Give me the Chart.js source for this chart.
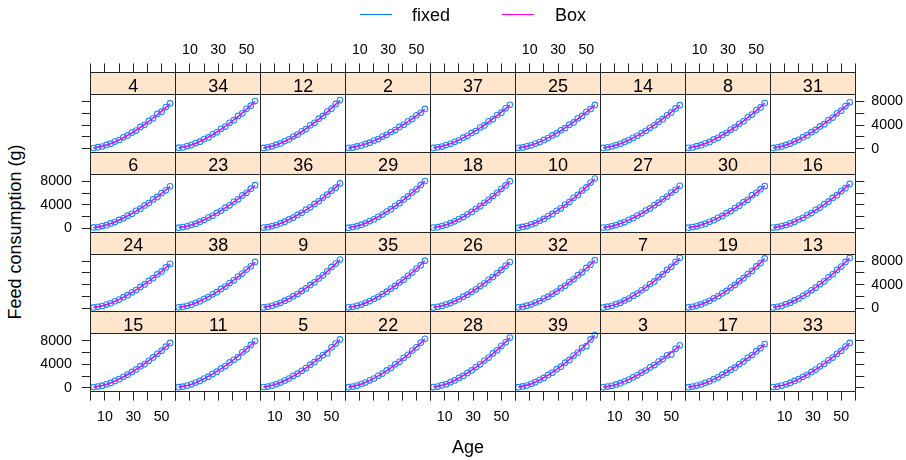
<!DOCTYPE html>
<html>
<head>
<meta charset="utf-8">
<script src="https://cdn.jsdelivr.net/npm/chart.js@4.4.1/dist/chart.umd.min.js"></script>
<style>
  html, body { margin: 0; padding: 0; background: #fff; }
  #page { position: relative; width: 906px; height: 460px; overflow: hidden;
          font-family: 'Liberation Sans', Arial, sans-serif; color: #000; }
  #page canvas { position: absolute; }
  .txt { position: absolute; font-size: 18px; line-height: 18px; white-space: nowrap; }
  .key { position: absolute; width: 32px; height: 1px; }
</style>
</head>
<body>
<div id="page"></div>
<script>
// ---- Data ------------------------------------------------------------
const ages    = [2, 5, 8, 11, 14, 17, 20, 23, 26, 29, 32, 35, 38, 41, 44, 47, 50, 53, 56];
const fitAges = [2, 11, 20, 29, 38, 47, 56];

const seriesNames  = ['fixed', 'Box'];
const seriesColors = ['#0080ff', '#ff00ff'];

const xTickVals   = [0, 10, 20, 30, 40, 50, 60];
const xTickLabels = [10, 30, 50];
const yTickVals   = [0, 2000, 4000, 6000, 8000];
const yTickLabels = [0, 4000, 8000];

// pens in panel order, top row first
const penOrder = [4, 34, 12, 2, 37, 25, 14, 8, 31,
                  6, 23, 36, 29, 18, 10, 27, 30, 16,
                  24, 38, 9, 35, 26, 32, 7, 19, 13,
                  15, 11, 5, 22, 28, 39, 3, 17, 33];

// observed cumulative feed (g) at each age
const obs4  = [120,260,380,640,850,1210,1480,1930,2250,2740,3080,3700,4060,4720,5150,5900,6280,7060,7690];
const obs34 = [170,210,440,610,950,1200,1630,1920,2440,2790,3390,3760,4400,4840,5560,6010,6770,7300,8080];
const obs12 = [140,250,400,680,900,1290,1590,2060,2400,2950,3340,3980,4390,5090,5560,6300,6800,7600,8260];
const obs2  = [160,200,390,530,810,1020,1380,1640,2060,2350,2840,3160,3700,4070,4650,5040,5680,6100,6760];
const obs37 = [130,250,370,620,830,1180,1440,1870,2180,2680,3010,3600,3960,4640,4980,5720,6120,6850,7460];
const obs25 = [160,220,410,580,880,1120,1500,1800,2260,2590,3120,3480,4080,4460,5150,5560,6260,6740,7430];
const obs14 = [140,240,380,610,840,1160,1460,1850,2190,2650,3040,3560,3980,4580,5020,5680,6150,6830,7380];
const obs8  = [150,210,430,600,910,1150,1570,1860,2340,2690,3250,3620,4240,4660,5340,5790,6520,7010,7760];
const obs31 = [130,250,390,650,870,1230,1520,1960,2290,2810,3180,3780,4170,4840,5280,6010,6460,7230,7870];
const obs6  = [170,210,400,560,850,1080,1450,1730,2170,2490,3000,3350,3910,4310,4920,5350,6010,6470,7150];
const obs23 = [140,240,370,610,820,1160,1430,1840,2160,2630,2990,3530,3920,4530,4950,5610,6060,6760,7340];
const obs36 = [150,220,410,590,890,1150,1540,1850,2300,2660,3190,3590,4160,4620,5250,5730,6410,6930,7650];
const obs29 = [140,250,390,650,890,1250,1560,1990,2350,2860,3280,3840,4300,4930,5430,6110,6650,7390,8050];
const obs18 = [160,220,420,620,930,1210,1600,1940,2400,2810,3340,3780,4360,4860,5500,6040,6720,7310,8030];
const obs10 = [130,260,400,680,920,1310,1620,2100,2460,3010,3420,4060,4490,5200,5690,6440,6960,7790,8480];
const obs27 = [160,210,400,570,850,1090,1470,1750,2190,2520,3040,3400,3950,4380,4990,5420,6090,6560,7240];
const obs30 = [140,240,370,600,810,1140,1410,1810,2130,2590,2950,3470,3860,4460,4870,5650,6050,6660,7180];
const obs16 = [150,220,410,590,880,1130,1520,1820,2280,2620,3160,3540,4120,4550,5190,5650,6340,6840,7560];
const obs24 = [130,240,380,620,840,1180,1470,1870,2210,2690,3080,3610,4030,4630,5100,5740,6240,6920,7530];
const obs38 = [160,220,420,600,910,1170,1570,1890,2360,2730,3270,3680,4270,4740,5380,5880,6570,7120,7850];
const obs9  = [140,250,400,660,910,1280,1600,2040,2410,2930,3360,3950,4410,5060,5580,6270,7000,7570,8250];
const obs35 = [150,230,420,620,930,1210,1600,1940,2400,2800,3340,3790,4360,4850,5500,6040,6720,7310,8060];
const obs26 = [140,240,390,640,870,1220,1520,1950,2300,2790,3200,3750,4190,4810,5300,5970,6490,7200,7840];
const obs32 = [160,220,430,620,950,1210,1630,1950,2450,2820,3400,3810,4440,4900,5600,6090,6840,7380,8160];
const obs7  = [130,260,410,690,930,1330,1640,2120,2490,3050,3460,4110,4540,5260,5750,6520,7040,7870,8560];
const obs19 = [150,230,440,640,970,1260,1680,2030,2530,2930,3510,3960,4590,5090,5790,6320,7090,7660,8450];
const obs13 = [140,250,410,680,940,1320,1650,2100,2500,3030,3480,4080,4560,5240,5760,6490,7060,7850,8540];
const obs15 = [150,240,390,620,860,1190,1500,1900,2250,2730,3140,3700,4060,4600,5180,5800,6330,7000,7640];
const obs11 = [140,220,420,610,930,1190,1590,1910,2390,2760,3320,3720,4330,4790,5240,6060,6550,7310,7960];
const obs5  = [160,230,410,660,920,1270,1600,2040,2420,2920,3370,3950,4420,5060,5580,5900,6900,7540,8230];
const obs22 = [140,250,400,670,920,1300,1610,2070,2440,2970,3390,4010,4450,5130,5640,6360,6900,7680,8340];
const obs28 = [150,230,440,650,980,1280,1700,2050,2560,2970,3550,4010,4640,5150,5860,6400,7150,7760,8550];
const obs39 = [140,260,420,710,980,1390,1710,2220,2600,3190,3620,4300,4750,5500,6020,6820,7100,8240,8950];
const obs3  = [150,230,380,600,820,1140,1420,1820,2140,2600,2960,3480,3890,4470,4900,5540,5700,6650,7240];
const obs17 = [140,240,400,590,870,1130,1500,1810,2250,2600,3110,3490,4060,4500,5110,5590,6250,6750,7450];
const obs33 = [160,220,410,630,860,1190,1490,1900,2240,2730,3120,3670,4090,4690,5160,5810,6310,7020,7640];

// fitted curves at fitAges: fixed-effects model and Box model
const fixed4  = [140,620,1500,2700,4110,5790,7620], box4  = [110,600,1510,2690,4130,5770,7590];
const fixed34 = [150,630,1580,2830,4340,6060,8010], box34 = [120,620,1590,2820,4330,6070,7990];
const fixed12 = [150,650,1620,2890,4440,6220,8210], box12 = [110,640,1620,2900,4430,6230,8190];
const fixed2  = [150,560,1350,2380,3640,5100,6710], box2  = [120,550,1350,2390,3640,5090,6700];
const fixed37 = [150,600,1470,2620,4010,5630,7410], box37 = [110,590,1480,2620,4020,5620,7390];
const fixed25 = [150,600,1470,2620,4010,5620,7400], box25 = [120,590,1480,2620,4020,5610,7390];
const fixed14 = [150,600,1470,2620,4010,5620,7390], box14 = [110,590,1470,2630,4010,5620,7380];
const fixed8  = [150,620,1530,2720,4170,5850,7710], box8  = [110,610,1530,2730,4170,5840,7700];
const fixed31 = [150,620,1550,2760,4230,5920,7810], box31 = [120,610,1550,2760,4240,5920,7790];
const fixed6  = [150,580,1420,2520,3860,5400,7110], box6  = [110,570,1420,2530,3860,5390,7100];
const fixed23 = [150,590,1460,2590,3960,5550,7310], box23 = [120,580,1460,2590,3970,5540,7300];
const fixed36 = [150,610,1510,2690,4120,5770,7610], box36 = [110,600,1510,2700,4120,5760,7600];
const fixed29 = [150,630,1580,2830,4330,6070,8010], box29 = [120,620,1580,2840,4330,6060,8000];
const fixed18 = [150,630,1580,2830,4330,6070,8000], box18 = [110,620,1590,2830,4340,6070,7990];
const fixed10 = [150,660,1650,2960,4540,6370,8410], box10 = [120,650,1660,2960,4550,6360,8400];
const fixed27 = [150,590,1440,2550,3910,5470,7210], box27 = [110,580,1440,2560,3910,5460,7200];
const fixed30 = [150,590,1440,2550,3910,5480,7200], box30 = [120,580,1440,2560,3920,5470,7190];
const fixed16 = [150,600,1490,2660,4070,5700,7510], box16 = [110,590,1490,2660,4070,5690,7500];
const fixed24 = [150,600,1490,2660,4070,5700,7500], box24 = [120,590,1500,2660,4080,5690,7490];
const fixed38 = [150,620,1550,2760,4230,5920,7810], box38 = [110,610,1550,2760,4230,5910,7800];
const fixed9  = [150,650,1620,2890,4440,6230,8210], box9  = [120,640,1620,2900,4440,6220,8200];
const fixed35 = [150,630,1580,2830,4330,6070,8010], box35 = [110,620,1580,2830,4340,6060,8000];
const fixed26 = [150,620,1550,2760,4230,5920,7800], box26 = [120,610,1550,2770,4230,5910,7790];
const fixed32 = [150,640,1600,2860,4390,6150,8110], box32 = [110,630,1600,2860,4390,6140,8100];
const fixed7  = [150,660,1670,3000,4600,6450,8510], box7  = [120,650,1680,3000,4600,6440,8500];
const fixed19 = [150,660,1650,2960,4540,6370,8410], box19 = [110,650,1660,2960,4550,6360,8390];
const fixed13 = [150,660,1670,3000,4600,6440,8510], box13 = [120,660,1670,3000,4600,6450,8490];
const fixed15 = [150,610,1510,2690,4120,5770,7610], box15 = [110,600,1510,2690,4130,5760,7600];
const fixed11 = [150,630,1560,2790,4280,6000,7910], box11 = [120,620,1570,2790,4280,5990,7900];
const fixed5  = [150,650,1620,2890,4440,6220,8200], box5  = [110,640,1620,2900,4440,6210,8190];
const fixed22 = [150,650,1640,2930,4490,6300,8310], box22 = [120,640,1640,2930,4500,6290,8300];
const fixed28 = [150,660,1670,3000,4600,6450,8510], box28 = [110,650,1670,3000,4600,6440,8500];
const fixed39 = [150,690,1740,3130,4810,6750,8910], box39 = [120,680,1750,3130,4810,6740,8890];
const fixed3  = [150,590,1440,2550,3910,5470,7200], box3  = [110,580,1440,2560,3910,5460,7190];
const fixed17 = [150,600,1470,2620,4010,5620,7410], box17 = [120,590,1480,2620,4020,5610,7400];
const fixed33 = [150,610,1510,2690,4120,5770,7600], box33 = [110,600,1510,2690,4120,5770,7590];

// pen -> [observed, fixed, Box]
const penSeries = {
  4: [obs4, fixed4, box4],    34: [obs34, fixed34, box34], 12: [obs12, fixed12, box12],
  2: [obs2, fixed2, box2],    37: [obs37, fixed37, box37], 25: [obs25, fixed25, box25],
  14: [obs14, fixed14, box14], 8: [obs8, fixed8, box8],     31: [obs31, fixed31, box31],
  6: [obs6, fixed6, box6],    23: [obs23, fixed23, box23], 36: [obs36, fixed36, box36],
  29: [obs29, fixed29, box29], 18: [obs18, fixed18, box18], 10: [obs10, fixed10, box10],
  27: [obs27, fixed27, box27], 30: [obs30, fixed30, box30], 16: [obs16, fixed16, box16],
  24: [obs24, fixed24, box24], 38: [obs38, fixed38, box38], 9: [obs9, fixed9, box9],
  35: [obs35, fixed35, box35], 26: [obs26, fixed26, box26], 32: [obs32, fixed32, box32],
  7: [obs7, fixed7, box7],    19: [obs19, fixed19, box19], 13: [obs13, fixed13, box13],
  15: [obs15, fixed15, box15], 11: [obs11, fixed11, box11], 5: [obs5, fixed5, box5],
  22: [obs22, fixed22, box22], 28: [obs28, fixed28, box28], 39: [obs39, fixed39, box39],
  3: [obs3, fixed3, box3],    17: [obs17, fixed17, box17], 33: [obs33, fixed33, box33]
};

// ---- Layout ----------------------------------------------------------
const FONT = "'Liberation Sans', Arial, sans-serif";
const NCOL = 9, NROW = 4;
const COL0 = 90.8, COL_W = 84.95;     // panel columns
const ROW0 = 72.5, ROW_H = 79.75;     // strip + panel rows
const STRIP_H = 22;
const MARGIN = 64, X_BAND = 40, Y_BAND = 60;
const X_MIN = 0, X_MAX = 60;
const Y_LO = -600, Y_HI = 9200;
// the strip sits inside the chart area, so the value scale runs on above the panel body
const Y_TOP = Y_HI + STRIP_H * (Y_HI - Y_LO) / (ROW_H - STRIP_H);
const FRAME = '#222';
const TICK_FONT = { size: 14.2 };

Chart.defaults.font.family = FONT;
Chart.defaults.color = '#000';

const crisp = v => Math.round(v - 0.5) + 0.5;

const stripPlugin = {
  id: 'stripFrame',
  beforeDatasetsDraw(chart, args, opts) {
    const { ctx, chartArea: a } = chart;
    ctx.save();
    ctx.fillStyle = '#ffe5cc';
    ctx.fillRect(a.left, a.top, a.right - a.left, STRIP_H);
    ctx.fillStyle = '#000';
    ctx.font = '18px ' + FONT;
    ctx.textAlign = 'center';
    ctx.textBaseline = 'alphabetic';
    ctx.fillText(opts.label, (a.left + a.right) / 2, a.top + 19);
    ctx.restore();
  },
  afterDraw(chart) {
    const { ctx, chartArea: a } = chart;
    const l = crisp(a.left), r = crisp(a.right), t = crisp(a.top), b = crisp(a.bottom);
    const s = crisp(a.top + STRIP_H);
    ctx.save();
    ctx.strokeStyle = FRAME;
    ctx.lineWidth = 1;
    ctx.beginPath();
    ctx.rect(l, t, r - l, b - t);
    ctx.moveTo(l, s); ctx.lineTo(r, s);
    ctx.stroke();
    ctx.restore();
  }
};

const page = document.getElementById('page');

penOrder.forEach((pen, i) => {
  const row = Math.floor(i / NCOL), col = i % NCOL;
  const left = COL0 + COL_W * col, right = left + COL_W;
  const top = ROW0 + ROW_H * row, bottom = top + ROW_H;
  const ox = Math.floor(left) - MARGIN, oy = Math.floor(top) - MARGIN;
  const cw = Math.ceil(right) + MARGIN - ox, ch = Math.ceil(bottom) + MARGIN - oy;

  const canvas = document.createElement('canvas');
  canvas.width = cw; canvas.height = ch;
  canvas.style.left = ox + 'px'; canvas.style.top = oy + 'px';
  canvas.style.width = cw + 'px'; canvas.style.height = ch + 'px';
  page.appendChild(canvas);

  const xPos = row === 0 ? 'top' : (row === NROW - 1 ? 'bottom' : null);
  const yPos = col === 0 ? 'left' : (col === NCOL - 1 ? 'right' : null);
  // alternate labelling, as in a trellis display
  const labelX = (xPos === 'top' && col % 2 === 1) || (xPos === 'bottom' && col % 2 === 0);
  const labelY = (yPos === 'left' && row % 2 === 1) || (yPos === 'right' && row % 2 === 0);

  const padL = left - ox, padR = ox + cw - right, padT = top - oy, padB = oy + ch - bottom;

  const [obs, fixedFit, boxFit] = penSeries[pen];
  const pts = (xs, ys) => xs.map((x, k) => ({ x: x, y: ys[k] }));

  new Chart(canvas, {
    type: 'scatter',
    data: {
      datasets: [
        { label: seriesNames[1], data: pts(fitAges, boxFit), showLine: true, pointRadius: 0,
          borderColor: seriesColors[1], borderWidth: 1.3, cubicInterpolationMode: 'monotone', order: 0 },
        { label: seriesNames[0], data: pts(fitAges, fixedFit), showLine: true, pointRadius: 0,
          borderColor: seriesColors[0], borderWidth: 1.2, cubicInterpolationMode: 'monotone', order: 1 },
        { label: 'observed', data: pts(ages, obs), showLine: false, pointStyle: 'circle',
          pointRadius: 2.8, pointBorderWidth: 1.1, borderColor: '#1a8cff',
          backgroundColor: 'rgba(0,0,0,0)', pointBackgroundColor: 'rgba(0,0,0,0)', order: 2 }
      ]
    },
    options: {
      responsive: false,
      animation: false,
      devicePixelRatio: 1,
      events: [],
      layout: {
        autoPadding: false,
        padding: {
          left: yPos === 'left' ? padL - Y_BAND : padL,
          right: yPos === 'right' ? padR - Y_BAND : padR,
          top: xPos === 'top' ? padT - X_BAND : padT,
          bottom: xPos === 'bottom' ? padB - X_BAND : padB
        }
      },
      plugins: {
        legend: { display: false },
        tooltip: { enabled: false },
        stripFrame: { label: String(pen) }
      },
      scales: {
        x: {
          type: 'linear',
          position: xPos || 'bottom',
          display: !!xPos,
          min: X_MIN, max: X_MAX,
          afterBuildTicks: ax => { ax.ticks = xTickVals.map(v => ({ value: v })); },
          afterFit: ax => { ax.height = xPos ? X_BAND : 0; },
          ticks: {
            autoSkip: false, maxRotation: 0,
            font: TICK_FONT, color: '#000',
            padding: xPos === 'top' ? 5 : 8.4,
            callback: v => (labelX && xTickLabels.includes(v)) ? String(v) : ''
          },
          grid: { drawOnChartArea: false, drawTicks: true, tickLength: 9, color: FRAME, lineWidth: 1 },
          border: { display: false }
        },
        y: {
          type: 'linear',
          position: yPos || 'left',
          display: !!yPos,
          min: Y_LO, max: Y_TOP,
          afterBuildTicks: ax => { ax.ticks = yTickVals.map(v => ({ value: v })); },
          afterFit: ax => { ax.width = yPos ? Y_BAND : 0; },
          ticks: {
            autoSkip: false,
            font: TICK_FONT, color: '#000',
            padding: yPos === 'left' ? 10 : 7,
            callback: v => (labelY && yTickLabels.includes(v)) ? String(v) : ''
          },
          grid: { drawOnChartArea: false, drawTicks: true, tickLength: 9, color: FRAME, lineWidth: 1 },
          border: { display: false }
        }
      }
    },
    plugins: [stripPlugin]
  });
});

// ---- Key and axis titles ----------------------------------------------
function addText(text, css) {
  const d = document.createElement('div');
  d.className = 'txt';
  d.textContent = text;
  Object.assign(d.style, css);
  page.appendChild(d);
  return d;
}
const keyX = [[360, 412], [502, 555]];
seriesNames.forEach((name, k) => {
  const line = document.createElement('div');
  line.className = 'key';
  line.style.left = keyX[k][0] + 'px';
  line.style.top = '14px';
  line.style.background = seriesColors[k];
  page.appendChild(line);
  addText(name, { left: keyX[k][1] + 'px', top: '6px' });
});
addText('Age', { left: '368px', width: '200px', textAlign: 'center', top: '438px' });
addText('Feed consumption (g)', {
  left: (14.8 - 150) + 'px', top: (232 - 9) + 'px', width: '300px',
  textAlign: 'center', transform: 'rotate(-90deg)'
});
</script>
</body>
</html>
